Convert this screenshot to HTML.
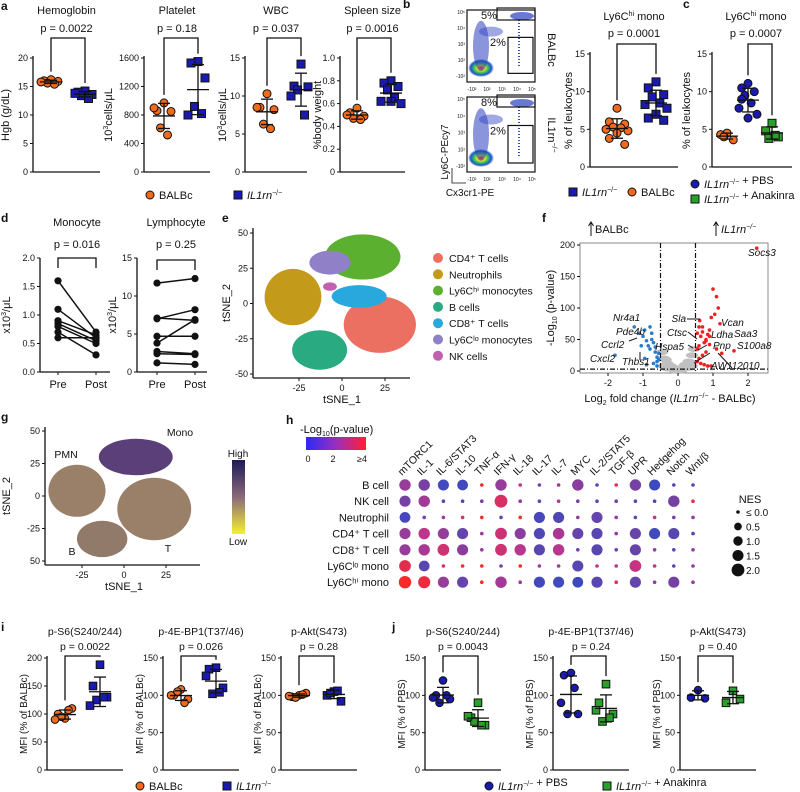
<!DOCTYPE html>
<html><head><meta charset="utf-8"><style>
body{margin:0;background:#fff}
svg{display:block;font-family:"Liberation Sans",Arial,sans-serif}
</style></head><body>
<svg id="fig" width="800" height="792" viewBox="0 0 800 792" xmlns="http://www.w3.org/2000/svg">
<defs>
<linearGradient id="pgrad" x1="0" x2="1" y1="0" y2="0"><stop offset="0" stop-color="#2a2af5"/><stop offset="0.5" stop-color="#9a2ec0"/><stop offset="1" stop-color="#ff2030"/></linearGradient>
<linearGradient id="ggrad" x1="0" x2="0" y1="0" y2="1"><stop offset="0" stop-color="#1e1a55"/><stop offset="0.5" stop-color="#8a6a7a"/><stop offset="1" stop-color="#f5f032"/></linearGradient>
<radialGradient id="flowg"><stop offset="0" stop-color="#ff3020"/><stop offset="0.3" stop-color="#f0e020"/><stop offset="0.55" stop-color="#30c060"/><stop offset="0.8" stop-color="#2050d0"/><stop offset="1" stop-color="#3050d0" stop-opacity="0"/></radialGradient>
</defs>
</svg>
<script>
// ---------- DATA ----------
const hgbBalb=[16.2,16.0,15.9,15.6,15.4,15.8], hgbKo=[14.2,14.0,13.6,13.4,12.9,13.8];
const pltBalb=[970,860,850,620,520,900], pltKo=[1550,1530,1320,920,820,800];
const wbcBalb=[10.3,8.5,8.2,6.3,5.7,8.5], wbcKo=[14.2,11.3,11.2,10.8,7.5,10.0];
const splBalb=[0.56,0.52,0.49,0.47,0.46,0.50], splKo=[0.80,0.78,0.75,0.72,0.65,0.62,0.60,0.62];
const bKo=[11.3,10.5,9.6,9.3,8.5,8.3,7.8,7.0,6.5,6.2], bBalb=[7.8,6.0,5.7,5.3,5.2,5.0,4.8,4.5,3.8,3.0];
const cBalb=[4.5,4.3,3.6,4.0], cPbs=[11.1,10.5,10.0,9.5,8.5,7.8,7.0,6.5,9.0], cAna=[5.8,4.8,4.0,3.8,4.2];
const monoPre=[1.6,1.1,0.9,0.85,0.8,0.7,0.6], monoPost=[0.7,0.6,0.65,0.55,0.5,0.3,0.6];
const lymPre=[11.7,7.1,7.0,4.7,3.8,2.7,2.4,1.2], lymPost=[12.3,6.8,8.2,4.7,6.9,2.4,2.3,1.0];
const i1B=[92,100,110,95,107,90], i1K=[188,150,130,125,130,115];
const i2B=[108,100,95,105,90,100], i2K=[137,135,110,102,104,126];
const i3B=[100,98,103,97,101,99], i3K=[105,100,92,103,106];
const j1P=[120,100,95,90,100,97], j1A=[90,70,60,65,60,72];
const j2P=[130,127,75,75,110,90], j2A=[115,90,75,65,70,80];
const j3P=[107,97,96], j3A=[106,90,95];
const hPaths=["mTORC1","IL-1","IL-6/STAT3","IL-10","TNF-α","IFN-γ","IL-18","IL-17","IL-7","MYC","IL-2/STAT5","TGF-β","UPR","Hedgehog","Notch","Wnt/β"];
const hCells=["B cell","NK cell","Neutrophil","CD4⁺ T cell","CD8⁺ T cell","Ly6Cˡᵒ mono","Ly6Cʰⁱ mono"];
const hNES=[
[1.6,1.6,1.5,1.4,0,1.6,0,0,0,1.6,0,0,1.6,1.5,0,0],
[1.5,1.6,0,0,0,2.0,0,0,0,0,0,0,0,0,1.6,0],
[1.4,0,0,0,0,0,0,1.5,1.5,0,1.5,0,0,0,0,0],
[1.5,1.6,1.5,1.5,0,1.7,1.5,1.5,1.6,1.5,1.5,0,1.5,1.5,1.5,0],
[1.5,1.6,1.7,1.5,0,1.7,1.6,1.5,1.6,0,1.5,0,1.5,0,0,0],
[1.7,1.4,0,0,0,0,0,0,0,1.5,0,0,1.7,0,0,0],
[1.9,1.8,1.5,1.5,0,1.6,0,1.5,1.5,1.4,1.5,0,1.5,0,1.5,0]];
const hP=[
[2.0,1.5,0.5,0.5,4,2.0,2.5,1.5,2.0,1.8,1.0,3.5,1.5,0.4,0.8,0.8],
[1.5,2.2,1.0,1.0,1.5,3.2,1.8,1.2,2.5,1.5,1.2,1.5,1.0,0.8,1.5,3.5],
[0.6,1.5,2.0,3.0,4,1.0,4,0.6,0.8,2.0,1.2,2.0,1.2,2.5,1.5,2.0],
[2.0,2.6,2.0,1.2,2.0,3.0,1.8,0.8,2.3,1.2,1.0,2.0,1.3,0.5,1.0,0.6],
[2.0,2.3,3.0,1.8,2.0,3.0,2.5,1.0,2.5,1.5,1.0,1.5,1.3,2.0,1.0,2.0],
[3.5,1.0,3.0,4,4,1.5,4,2.0,2.0,1.0,2.5,2.5,2.8,2.5,1.0,2.0],
[4.0,3.7,2.0,1.2,4,2.2,2.0,0.5,0.5,0.4,1.0,3.5,1.2,2.0,1.5,2.0]];
const volBlueX=[-1.8,-1.25,-1.1,-1.0,-0.95,-0.9,-0.85,-0.8,-0.75,-0.7,-0.65,-0.6,-0.55,-1.05,-0.9,-0.7,-0.6,-0.8,-0.55,-0.65,-0.75,-0.95,-0.6];
const volBlueY=[25,70,60,55,65,48,40,35,60,45,30,22,18,40,10,12,8,70,28,38,50,20,15];
const volRedX=[2.25,1.6,1.2,1.1,1.15,1.0,0.95,0.9,0.85,0.8,0.75,0.7,0.65,0.6,0.55,1.25,1.05,0.9,0.8,0.7,0.6,0.55,0.65,0.75,0.85,0.95,1.1,0.6,0.7,0.8,0.9,0.55,0.62];
const volRedY=[195,32,75,118,100,130,85,65,58,50,45,62,55,40,35,28,90,42,30,25,20,15,12,10,8,8,35,70,70,48,55,60,80];
const volGreyX=[-0.4,-0.3,-0.2,-0.1,0,0.1,0.2,0.3,0.4,-0.45,-0.35,-0.25,-0.15,-0.05,0.05,0.15,0.25,0.35,0.45,-0.3,0.3,-0.1,0.1,0.4,-0.4];
const volGreyY=[20,12,8,5,3,5,10,15,25,30,18,6,4,2,2,4,7,14,35,4,5,1,1,8,8];
const tsneName=["CD4⁺ T cells","Neutrophils","Ly6Cʰⁱ monocytes","B cells","CD8⁺ T cells","Ly6Cˡᵒ monocytes","NK cells"];
const tsneCol=["#ec7062","#c49a1a","#5bb030","#2aaa80","#28a8dc","#9080c8","#c060b0"];
const tsneCX=[22,-28.5,12,-13,10,-7,-7], tsneCY=[-15,4.6,33,-33,5,29,12];
const tsneRX=[21,16.5,22,16,16,12,4], tsneRY=[20,20,16,14,8,8.5,3];
const gCX=[-28,7,-13,18], gCY=[4,30,-33,-10], gRX=[17,22,15,22], gRY=[20,14,14,24];

// ---------- HELPERS ----------
const svg=document.getElementById('fig');const NS='http://www.w3.org/2000/svg';
function el(tag,attrs,parent){const e=document.createElementNS(NS,tag);for(const k in attrs)e.setAttribute(k,attrs[k]);(parent||svg).appendChild(e);return e;}
function txt(x,y,s,size,anchor,parent,extra){const t=el('text',Object.assign({x:x,y:y,'font-size':size,'text-anchor':anchor||'middle',fill:'#111'},extra||{}),parent);t.innerHTML=s;return t;}
function grp(name){const g=el('g',{});return g;}
function mean(a){return a.reduce((s,v)=>s+v,0)/a.length;}
function sd(a){const m=mean(a);return Math.sqrt(a.reduce((s,v)=>s+(v-m)*(v-m),0)/(a.length-1));}
const ORG='#f26a1b',BLU='#1a1ab0',GRN='#2aa02a';
function marker(g,shape,x,y,fill,sz){sz=sz||4;let m;
 if(shape==='c')m=el('circle',{cx:x,cy:y,r:sz,fill:fill,stroke:'#111','stroke-width':1},g);
 else m=el('rect',{x:x-sz,y:y-sz,width:2*sz,height:2*sz,fill:fill,stroke:'#111','stroke-width':1},g);
 return m;}
const jit=[0,-7,7,-3.5,3.5,-10,10,0,-7,7,0];
function dotChart(o){
 const g=grp(o.name);
 const ys=v=>o.y0-(v/o.ymax)*(o.y0-o.y1);
 el('line',{x1:o.ax,y1:o.y1-2,x2:o.ax,y2:o.y0,stroke:'#111','stroke-width':1.3},g);
 el('line',{x1:o.ax,y1:o.y0,x2:o.ax+o.w,y2:o.y0,stroke:'#111','stroke-width':1.3},g);
 o.ticks.forEach((t,i)=>{const y=ys(t);el('line',{x1:o.ax-3,y1:y,x2:o.ax,y2:y,stroke:'#111'},g);txt(o.ax-5,y+3,o.tl?o.tl[i]:t,o.tfs||9,'end',g);});
 const yl=txt(o.ylx,(o.y0+o.y1)/2,o.ylab,o.yfs||11,'middle',g,{transform:`rotate(-90 ${o.ylx} ${(o.y0+o.y1)/2})`});
 
 if(o.title)txt(o.tx||(o.ax+o.w/2),o.ty,o.title,o.tfs2||11,'middle',g);
 if(o.p)txt(o.px||(o.ax+o.w/2),o.py,o.p,o.tfs2||11,'middle',g);
 o.groups.forEach((gr,gi)=>{
  const m=mean(gr.v),s=sd(gr.v);
  gr.v.forEach((v,i)=>marker(g,gr.shape,gr.x+jit[i%jit.length]*(o.jw||1),ys(v),gr.fill,o.ms));
  el('line',{x1:gr.x-11,y1:ys(m),x2:gr.x+11,y2:ys(m),stroke:'#111','stroke-width':1.3},g);
  el('line',{x1:gr.x,y1:ys(m-s),x2:gr.x,y2:ys(m+s),stroke:'#111','stroke-width':1.3},g);
  el('line',{x1:gr.x-6,y1:ys(m-s),x2:gr.x+6,y2:ys(m-s),stroke:'#111','stroke-width':1.3},g);
  el('line',{x1:gr.x-6,y1:ys(m+s),x2:gr.x+6,y2:ys(m+s),stroke:'#111','stroke-width':1.3},g);
 });
 if(o.br){const [a,b]=o.br;const top=o.brTop;
  const gA=o.groups[a],gB=o.groups[b];
  const yA=ys(Math.max(...gA.v))-8,yB=ys(Math.max(...gB.v))-8;
  el('polyline',{points:`${gA.x},${Math.min(yA,o.y0)} ${gA.x},${top} ${gB.x},${top} ${gB.x},${yB}`,fill:'none',stroke:'#111','stroke-width':1.3},g);}
 return g;}
function panelLabel(x,y,s){const t=txt(x,y,s,12,'start',null,{'font-weight':'bold'});}
function legendItem(x,y,shape,fill,label,name){const g=grp(name);marker(g,shape,x,y,fill,4);txt(x+9,y+4,label,11,'start',g);}
const KO='<tspan font-style="italic">IL1rn</tspan><tspan font-size="7" dy="-4">−/−</tspan>';
const KOs=KO+'<tspan dy="4"></tspan>';

// ---------- PANEL A ----------
panelLabel(1,10,'a');
dotChart({name:'hemoglobin-chart',ax:33,y0:172,y1:58,ymax:20,w:67,ticks:[0,5,10,15,20],ylx:9,ylab:'Hgb (g/dL)',title:'Hemoglobin',ty:14,p:'p = 0.0022',py:32,br:[0,1],brTop:38,
 groups:[{x:51,v:hgbBalb,shape:'c',fill:ORG},{x:85,v:hgbKo,shape:'s',fill:BLU}]});
dotChart({name:'platelet-chart',ax:144,y0:172,y1:58,ymax:1600,w:66,ticks:[0,400,800,1200,1600],ylx:112,ylab:'10<tspan font-size="7" dy="-4">3</tspan><tspan dy="4">cells/μL</tspan>',title:'Platelet',ty:14,p:'p = 0.18',py:32,br:[0,1],brTop:38,
 groups:[{x:164,v:pltBalb,shape:'c',fill:ORG},{x:198,v:pltKo,shape:'s',fill:BLU}]});
dotChart({name:'wbc-chart',ax:245,y0:172,y1:58,ymax:15,w:62,ticks:[0,5,10,15],ylx:226,ylab:'10<tspan font-size="7" dy="-4">3</tspan><tspan dy="4">cells/μL</tspan>',title:'WBC',ty:14,p:'p = 0.037',py:32,br:[0,1],brTop:38,
 groups:[{x:267,v:wbcBalb,shape:'c',fill:ORG},{x:301,v:wbcKo,shape:'s',fill:BLU}]});
dotChart({name:'spleen-chart',ax:340,y0:172,y1:58,ymax:1.0,w:65,ticks:[0,0.2,0.4,0.6,0.8,1.0],tl:['0','0.2','0.4','0.6','0.8','1.0'],ylx:321,ylab:'%body weight',title:'Spleen size',ty:14,p:'p = 0.0016',py:32,br:[0,1],brTop:38,
 groups:[{x:357,v:splBalb,shape:'c',fill:ORG},{x:391,v:splKo,shape:'s',fill:BLU}]});
legendItem(150,195,'c',ORG,'BALBc','legend-balbc');
legendItem(238,195,'s',BLU,KO,'legend-il1rn');

// ---------- PANEL B ----------
panelLabel(403,8,'b');
function flowPlot(y0,pTop,name){const g=grp(name);
 const x0=467,w=68,h=y0===10?72:75;
 el('rect',{x:x0,y:y0,width:w,height:h,fill:'#fff',stroke:'#111','stroke-width':1.2},g);
 el('ellipse',{cx:x0+14,cy:y0+h-14,rx:13,ry:9,fill:'url(#flowg)'},g);
 el('ellipse',{cx:x0+14,cy:y0+h*0.5,rx:8,ry:h*0.35,fill:'#2a3ec0','fill-opacity':0.55},g);
 el('ellipse',{cx:x0+24,cy:y0+h*0.3,rx:12,ry:5,fill:'#2a3ec0','fill-opacity':0.45},g);
 el('ellipse',{cx:x0+55,cy:y0+6,rx:12,ry:4,fill:'#2a3ec0','fill-opacity':0.7},g);
 el('line',{x1:x0+52,y1:y0+10,x2:x0+52,y2:y0+h-14,stroke:'#3050c0','stroke-width':2,'stroke-dasharray':'1 2'},g);
 el('rect',{x:x0+30,y:y0-2,width:38,height:12,fill:'none',stroke:'#111','stroke-width':1.2},g);
 el('rect',{x:x0+41,y:y0+h*0.38,width:25,height:h*0.5,fill:'none',stroke:'#111','stroke-width':1.2},g);
 txt(x0+22,y0+9,pTop,11,'middle',g);txt(x0+31,y0+h*0.5,'2%',11,'middle',g);
 ['-10²','10²','10³','10⁴','10⁵'].forEach((t,i)=>txt(x0+5+i*15,y0+h+9,t,5,'middle',g));
 ['10⁵','10⁴','10³','10²','-10²'].forEach((t,i)=>txt(x0-2,y0+4+i*(h-8)/4,t,5,'end',g));}
flowPlot(10,'5%','flow-plot-balbc');flowPlot(97,'8%','flow-plot-il1rn');
txt(548,50,'BALBc',11,'middle',null,{transform:'rotate(90 548 50)'});
txt(548,135,'IL1rn<tspan font-size="7" dy="-4">−/−</tspan>',11,'middle',null,{transform:'rotate(90 548 135)'});
txt(448,152,'Ly6C-PEcy7',10,'middle',null,{transform:'rotate(-90 448 152)'});
txt(470,196,'Cx3cr1-PE',10,'middle');
el('polyline',{points:'452,168 452,183 466,183',fill:'none',stroke:'#111','stroke-width':0.8});
dotChart({name:'ly6chi-balbc-chart',ax:590,y0:167,y1:54,ymax:15,w:88,ticks:[0,5,10,15],ylx:572,ylab:'% of leukocytes',title:'Ly6C<tspan font-size="7" dy="-4">hi</tspan><tspan dy="4"> mono</tspan>',ty:20,p:'p = 0.0001',py:37,br:[0,1],brTop:44,jw:1.1,
 groups:[{x:617,v:bBalb,shape:'c',fill:ORG},{x:656,v:bKo,shape:'s',fill:BLU}]});
legendItem(573,192,'s',BLU,KO,'legend-b-il1rn');
legendItem(632,192,'c',ORG,'BALBc','legend-b-balbc');

// ---------- PANEL C ----------
panelLabel(683,8,'c');
dotChart({name:'ly6chi-anakinra-chart',ax:712,y0:167,y1:54,ymax:15,w:80,ticks:[0,5,10,15],ylx:690,ylab:'% of leukocytes',title:'Ly6C<tspan font-size="7" dy="-4">hi</tspan><tspan dy="4"> mono</tspan>',tx:756,ty:20,p:'p = 0.0007',px:756,py:37,br:[1,2],brTop:44,jw:0.9,
 groups:[{x:727,v:cBalb,shape:'c',fill:ORG},{x:748,v:cPbs,shape:'c',fill:BLU},{x:772,v:cAna,shape:'s',fill:GRN}]});
legendItem(695,184,'c',BLU,KOs+' + PBS','legend-c-pbs');
legendItem(695,199,'s',GRN,KOs+' + Anakinra','legend-c-anakinra');

// ---------- PANEL D ----------
panelLabel(1,222,'d');
function pairedChart(o){const g=grp(o.name);const ys=v=>o.y0-(v/o.ymax)*(o.y0-o.y1);
 el('line',{x1:o.ax,y1:o.y1,x2:o.ax,y2:o.y0,stroke:'#111','stroke-width':1.3},g);
 el('line',{x1:o.ax,y1:o.y0,x2:o.ax+o.w,y2:o.y0,stroke:'#111','stroke-width':1.3},g);
 o.ticks.forEach((t,i)=>{const y=ys(t);el('line',{x1:o.ax-3,y1:y,x2:o.ax,y2:y,stroke:'#111'},g);txt(o.ax-5,y+3,o.tl?o.tl[i]:t,9,'end',g);});
 [o.xa,o.xb].forEach((x,i)=>{el('line',{x1:x,y1:o.y0,x2:x,y2:o.y0+3,stroke:'#111'},g);txt(x,o.y0+16,i?'Post':'Pre',11,'middle',g);});
 txt(o.ylx,(o.y0+o.y1)/2,'x10<tspan font-size="7" dy="-4">3</tspan><tspan dy="4">/μL</tspan>',11,'middle',g,{transform:`rotate(-90 ${o.ylx} ${(o.y0+o.y1)/2})`});
 txt((o.xa+o.xb)/2,226,o.title,11,'middle',g);txt((o.xa+o.xb)/2,248,o.p,11,'middle',g);
 el('polyline',{points:`${o.xa},${o.brY+10} ${o.xa},${o.brY} ${o.xb},${o.brY} ${o.xb},${o.brY+10}`,fill:'none',stroke:'#111','stroke-width':1.3},g);
 o.pre.forEach((v,i)=>{el('line',{x1:o.xa,y1:ys(v),x2:o.xb,y2:ys(o.post[i]),stroke:'#111','stroke-width':1.5},g);
  const a=el('circle',{cx:o.xa,cy:ys(v),r:3.6,fill:'#111'},g);
  const b=el('circle',{cx:o.xb,cy:ys(o.post[i]),r:3.6,fill:'#111'},g);});}
pairedChart({name:'monocyte-chart',ax:40,y0:372,y1:258,ymax:2,w:70,ticks:[0,0.5,1,1.5,2],tl:['0.0','0.5','1.0','1.5','2.0'],xa:58,xb:96,ylx:10,title:'Monocyte',p:'p = 0.016',brY:258,pre:monoPre,post:monoPost});
pairedChart({name:'lymphocyte-chart',ax:137,y0:372,y1:258,ymax:15,w:70,ticks:[0,5,10,15],xa:157,xb:195,ylx:116,title:'Lymphocyte',p:'p = 0.25',brY:260,pre:lymPre,post:lymPost});

// ---------- PANEL E ----------
panelLabel(222,222,'e');
(function(){const g=grp('tsne-cluster-plot');const xs=v=>342+v*1.72,ys=v=>303.5-v*1.41;
 el('line',{x1:253,y1:228,x2:253,y2:378,stroke:'#111','stroke-width':1.3},g);el('line',{x1:253,y1:378,x2:410,y2:378,stroke:'#111','stroke-width':1.3},g);
 [50,25,0,-25,-50].forEach(t=>{el('line',{x1:250,y1:ys(t),x2:253,y2:ys(t),stroke:'#111'},g);txt(248,ys(t)+3,t,9,'end',g);});
 [-25,0,25].forEach(t=>{el('line',{x1:xs(t),y1:378,x2:xs(t),y2:381,stroke:'#111'},g);txt(xs(t),391,t,9,'middle',g);});
 txt(230,303,'tSNE_2',11,'middle',g,{transform:'rotate(-90 230 303)'});txt(342,403,'tSNE_1',11,'middle',g);
 tsneName.forEach((n,i)=>{const e=el('ellipse',{cx:xs(tsneCX[i]),cy:ys(tsneCY[i]),rx:tsneRX[i]*1.72,ry:tsneRY[i]*1.41,fill:tsneCol[i]},g);
  const lg=grp('legend-entry');el('circle',{cx:438,cy:258+i*16.3,r:5,fill:tsneCol[i]},lg);txt(449,262+i*16.3,n,10.5,'start',lg);});})();

// ---------- PANEL F ----------
panelLabel(542,222,'f');
(function(){const g=grp('volcano-plot');const xs=v=>678+v*35,ys=v=>371-v*0.63;
 el('rect',{x:580,y:243,width:188,height:130,fill:'#fff',stroke:'#888','stroke-width':1},g);
 [0,50,100,150,200].forEach(t=>{el('line',{x1:577,y1:ys(t),x2:580,y2:ys(t),stroke:'#111'},g);txt(575,ys(t)+3,t,9,'end',g);});
 [-2,-1,0,1,2].forEach(t=>{el('line',{x1:xs(t),y1:373,x2:xs(t),y2:376,stroke:'#111'},g);txt(xs(t),386,t,9,'middle',g);});
 volGreyX.forEach((v,i)=>el('ellipse',{cx:xs(v),cy:ys(volGreyY[i]),rx:6,ry:3,fill:'#c0c0c0'},g));
 volBlueX.forEach((v,i)=>{const c=el('circle',{cx:xs(v),cy:ys(volBlueY[i]),r:1.8,fill:'#2a7ccc'},g);});
 volRedX.forEach((v,i)=>{const c=el('circle',{cx:xs(v),cy:ys(volRedY[i]),r:1.8,fill:'#ee2020'},g);});
 [-0.5,0.5].forEach(t=>el('line',{x1:xs(t),y1:243,x2:xs(t),y2:373,stroke:'#111','stroke-width':1.2,'stroke-dasharray':'5 2 1 2'},g));
 el('line',{x1:580,y1:ys(3),x2:768,y2:ys(3),stroke:'#111','stroke-width':1.2,'stroke-dasharray':'5 2 1 2'},g);
 const it={'font-style':'italic'};
 [['Socs3',748,256],['Nr4a1',613,321],['Pde4b',616,335],['Ccrl2',601,348],['Cxcl2',590,362],['Thbs1',622,365],['Sla',686,322,'end'],['Ctsc',687,336,'end'],['Hspa5',684,350,'end'],['Vcan',721,326],['Ldha',711,338],['Saa3',734,337],['Pnp',713,349],['S100a8',737,349],['AW112010',711,369]].forEach(a=>txt(a[1],a[2],a[0],10,a[3]||'start',g,it));
 [[629,341,637,338],[640,352,640,360],[687,319,700,319],[688,332,697,339],[688,345,693,348],[707,345,698,350],[710,353,694,363],[718,353,732,368]].forEach(l=>el('line',{x1:l[0],y1:l[1],x2:l[2],y2:l[3],stroke:'#111'},g));
 txt(554,308,'-Log<tspan font-size="7" dy="3">10</tspan><tspan dy="-3"> (p-value)</tspan>',11,'middle',g,{transform:'rotate(-90 554 308)'});
 txt(670,402,'Log<tspan font-size="7" dy="3">2</tspan><tspan dy="-3"> fold change (</tspan><tspan font-style="italic">IL1rn</tspan><tspan font-size="7" dy="-4">−/−</tspan><tspan dy="4"> - BALBc)</tspan>',11,'middle',g);
 el('line',{x1:591,y1:236,x2:591,y2:223,stroke:'#111'},g);el('polyline',{points:'588.5,226 591,222 593.5,226',fill:'none',stroke:'#111'},g);txt(595,233,'BALBc',11,'start',g);
 el('line',{x1:716,y1:236,x2:716,y2:223,stroke:'#111'},g);el('polyline',{points:'713.5,226 716,222 718.5,226',fill:'none',stroke:'#111'},g);txt(721,233,'IL1rn<tspan font-size="7" dy="-4">−/−</tspan>',11,'start',g,{'font-style':'italic'});})();

// ---------- PANEL G ----------
panelLabel(1,421,'g');
(function(){const g=grp('tsne-expression-plot');const xs=v=>124+v*1.68,ys=v=>496-v*1.3;
 el('line',{x1:45,y1:427,x2:45,y2:565,stroke:'#111','stroke-width':1.3},g);el('line',{x1:45,y1:565,x2:200,y2:565,stroke:'#111','stroke-width':1.3},g);
 [[50,'50'],[25,'25'],[0,'0'],[-25,'-25'],[-50,'50']].forEach(t=>{el('line',{x1:42,y1:ys(t[0]),x2:45,y2:ys(t[0]),stroke:'#111'},g);txt(40,ys(t[0])+3,t[1],9,'end',g);});
 [-25,0,25].forEach(t=>{el('line',{x1:xs(t),y1:565,x2:xs(t),y2:568,stroke:'#111'},g);txt(xs(t),578,t,9,'middle',g);});
 txt(10,496,'tSNE_2',11,'middle',g,{transform:'rotate(-90 10 496)'});txt(124,590,'tSNE_1',11,'middle',g);
 const cols=['#9a8068','#5a3f78','#927a6a','#9a8068'];
 gCX.forEach((c,i)=>{const e=el('ellipse',{cx:xs(c),cy:ys(gCY[i]),rx:gRX[i]*1.68,ry:gRY[i]*1.3,fill:cols[i]},g);});
 txt(66,458,'PMN',10.5,'middle',g);txt(180,436,'Mono',10.5,'middle',g);txt(72,555,'B',10.5,'middle',g);txt(168,552,'T',10.5,'middle',g);
 el('rect',{x:232,y:460,width:13,height:74,fill:'url(#ggrad)'},g);txt(238,457,'High',10,'middle',g);txt(238,545,'Low',10,'middle',g);})();

// ---------- PANEL H ----------
panelLabel(286,424,'h');
(function(){const g=grp('pathway-dot-plot');
 txt(300,433,'-Log<tspan font-size="7" dy="3">10</tspan><tspan dy="-3">(p-value)</tspan>',11,'start',g);
 el('rect',{x:306,y:437,width:60,height:13,fill:'url(#pgrad)'},g);
 txt(308,462,'0',9,'middle',g);txt(333,462,'2',9,'middle',g);txt(362,462,'≥4',9,'middle',g);
 const stops=[[42,76,200],[106,68,168],[194,52,138],[245,42,42]];
 function col(v){const t=Math.min(v,4)/4*3;const i=Math.min(2,Math.floor(t)),f=t-i;const a=stops[i],b=stops[i+1];return `rgb(${a.map((c,k)=>Math.round(c+(b[k]-c)*f)).join(',')})`;}
 const rad=n=>n<=0?1.8:3+n*1.7;
 const cx=j=>405+j*19.2,cy=i=>485+i*16.2;
 hPaths.forEach((p,j)=>txt(cx(j)-3,476,p,10.5,'start',g,{transform:`rotate(-45 ${cx(j)-3} 476)`}));
 hCells.forEach((c,i)=>{txt(389,cy(i)+4,c,11,'end',g);
  hPaths.forEach((p,j)=>{const d=el('circle',{cx:cx(j),cy:cy(i),r:rad(hNES[i][j]),fill:col(hP[i][j])},g);});});
 txt(750,503,'NES',11,'middle',g);
 [[0,'≤ 0.0'],[0.5,'0.5'],[1,'1.0'],[1.5,'1.5'],[2,'2.0']].forEach((n,k)=>{const y=512+k*14.5;el('circle',{cx:738,cy:y,r:rad(n[0]),fill:'#111'},g);txt(746,y+4,n[1],10,'start',g);});})();

// ---------- PANELS I & J ----------
panelLabel(1,631,'i');panelLabel(392,631,'j');
const mfiB='MFI (% of BALBc)',mfiP='MFI (% of PBS)';
function mfi(name,ax,ymax,ticks,yl,title,p,ga,gb,sa,fa,sb,fb){return dotChart({name:name,ax:ax,y0:770,y1:658,ymax:ymax,w:76,ticks:ticks,ylx:ax-20,ylab:yl,yfs:10,title:title,ty:635,tfs2:10.5,p:p,py:650,br:[0,1],brTop:656,ms:3.8,jw:1,tx:ax+38,px:ax+38,
 groups:[{x:ax+18,v:ga,shape:sa,fill:fa},{x:ax+53,v:gb,shape:sb,fill:fb}]});}
mfi('i-ps6-chart',47,200,[0,50,100,150,200],mfiB,'p-S6(S240/244)','p = 0.0022',i1B,i1K,'c',ORG,'s',BLU);
mfi('i-4ebp1-chart',163,150,[0,50,100,150],mfiB,'p-4E-BP1(T37/46)','p = 0.026',i2B,i2K,'c',ORG,'s',BLU);
mfi('i-akt-chart',281,150,[0,50,100,150],mfiB,'p-Akt(S473)','p = 0.28',i3B,i3K,'c',ORG,'s',BLU);
mfi('j-ps6-chart',425,150,[0,50,100,150],mfiP,'p-S6(S240/244)','p = 0.0043',j1P,j1A,'c',BLU,'s',GRN);
mfi('j-4ebp1-chart',553,150,[0,50,100,150],mfiP,'p-4E-BP1(T37/46)','p = 0.24',j2P,j2A,'c',BLU,'s',GRN);
mfi('j-akt-chart',680,150,[0,50,100,150],mfiP,'p-Akt(S473)','p = 0.40',j3P,j3A,'c',BLU,'s',GRN);
legendItem(140,786,'c',ORG,'BALBc','legend-i-balbc');
legendItem(227,786,'s',BLU,KO,'legend-i-il1rn');
legendItem(489,786,'c',BLU,KOs+' + PBS','legend-j-pbs');
legendItem(607,786,'s',GRN,KOs+' + Anakinra','legend-j-anakinra');
</script>
</body></html>
